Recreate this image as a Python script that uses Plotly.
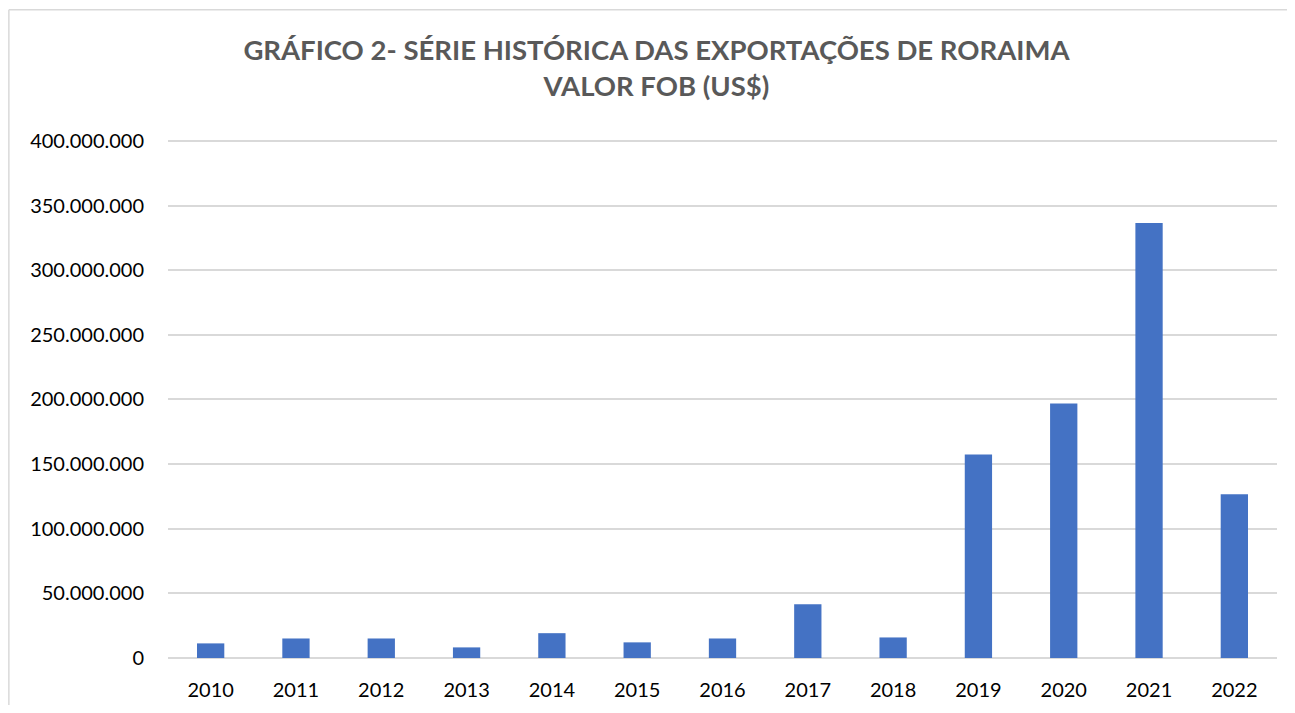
import plotly.graph_objects as go

anos = ["2010", "2011", "2012", "2013", "2014", "2015", "2016",
        "2017", "2018", "2019", "2020", "2021", "2022"]
valor_fob = [11300000, 15100000, 15100000, 8200000, 19200000, 12100000, 15100000,
             41500000, 15900000, 157500000, 196900000, 336500000, 126600000]
y_ticks = [0, 50000000, 100000000, 150000000, 200000000, 250000000,
           300000000, 350000000, 400000000]

fig = go.Figure(go.Bar(x=anos, y=valor_fob, marker=dict(color="#4472C4", line=dict(width=0))))

W, H = 1279, 697
border = dict(color="#D9D9D9", width=1.5)
fig.update_layout(
    width=W, height=H,
    separators=",.",
    paper_bgcolor="white", plot_bgcolor="white",
    margin=dict(l=160, r=10, t=131, b=47, autoexpand=False),
    bargap=0.68,
    showlegend=False,
    font=dict(family="Lato", color="#000000"),
    title=dict(text="<b>GRÁFICO 2- SÉRIE HISTÓRICA DAS EXPORTAÇÕES DE RORAIMA<br>VALOR FOB (US$)</b>",
               x=0.507, xanchor="center", xref="container", y=0.9257, yanchor="top",
               font=dict(family="Lato", size=27.5, color="#595959")),
    xaxis=dict(showgrid=False, showline=False, ticks="", tickfont=dict(size=20, color="#000"),
               ticklabelstandoff=18, automargin=False),
    yaxis=dict(range=[0, 401500000], tickvals=y_ticks, tickformat=",d",
               showgrid=True, gridcolor="#D9D9D9", gridwidth=1.5,
               zeroline=True, zerolinecolor="#D9D9D9", zerolinewidth=1.5,
               showline=False, ticks="", tickfont=dict(size=20, color="#000"),
               ticklabelstandoff=23, automargin=False),
    shapes=[
        dict(type="line", xref="paper", yref="paper", x0=-0.1435, x1=1.01, y0=1.249, y1=1.249,
             line=border, layer="below"),
        dict(type="line", xref="paper", yref="paper", x0=-0.1435, x1=-0.1435, y0=-0.2, y1=1.249,
             line=border, layer="below"),
    ],
)

fig.write_html("out.html")
